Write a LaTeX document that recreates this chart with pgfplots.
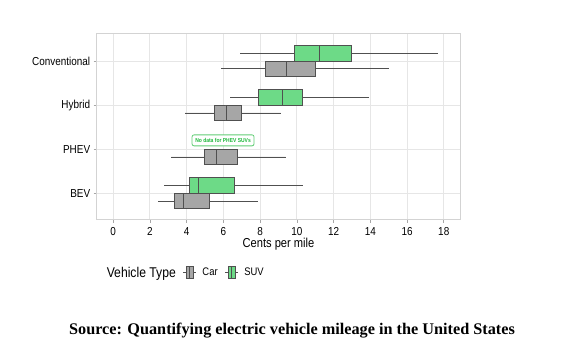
\documentclass[border=0pt]{standalone}
\usepackage{fontspec}
\setmainfont{Liberation Sans}[FakeStretch=0.86]
\newfontfamily\capfont{Liberation Serif}
\usepackage{pgfplots}
\pgfplotsset{compat=1.18}
\usepgfplotslibrary{statistics}
\definecolor{cargray}{HTML}{A6A6A6}
\definecolor{suvgreen}{HTML}{6DDA87}
\definecolor{edge}{HTML}{505050}
\definecolor{gridc}{HTML}{E6E6E6}
\definecolor{framec}{HTML}{D3D3D3}
\definecolor{notegreen}{HTML}{1DB83A}
\begin{document}
\begin{tikzpicture}
\path[use as bounding box] (0,0) rectangle (567bp,364bp);
\begin{axis}[
  at={(96.7bp,144.3bp)}, anchor=south west,
  scale only axis, width=363.6bp, height=186bp,
  xmin=-0.9, xmax=18.9, ymin=0.4, ymax=4.62,
  xtick={0,2,...,18},
  ytick={1,2,3,4},
  yticklabels={BEV,PHEV,Hybrid,Conventional},
  xtick pos=bottom, ytick pos=left,
  /pgf/number format/assume math mode=true,
  tick label style={font=\fontsize{11.6}{13}\selectfont, color=black},
  xticklabel style={yshift=-1bp},
  xlabel={Cents per mile},
  xlabel style={font=\fontsize{13}{15}\selectfont, yshift=4bp},
  grid=major,
  major grid style={gridc, line width=1bp},
  axis line style={framec, line width=1.4bp},
  tick align=outside, major tick length=3bp,
  tick style={color=black!35, line width=0.7bp},
  legend columns=-1,
  legend style={at={(0.008,-0.285)}, anchor=west, draw=none, fill=none,
    font=\fontsize{11}{13}\selectfont, inner sep=1bp,
    /tikz/every odd column/.append style={column sep=4bp},
    /tikz/every even column/.append style={column sep=5bp}},
  boxplot/draw direction=x,
]
\addlegendimage{empty legend}
\addlegendentry{\fontsize{14.2}{16}\selectfont Vehicle Type}
\addlegendimage{legend image code/.code={
  \draw[edge, line width=0.7bp] (0bp,0) -- (3bp,0);
  \draw[edge, line width=0.7bp] (10bp,0) -- (13bp,0);
  \draw[fill=cargray, draw=edge, line width=0.7bp] (3bp,-6bp) rectangle (10bp,6bp);
  \draw[edge, line width=0.7bp] (6.5bp,-6bp) -- (6.5bp,6bp);}}
\addlegendentry{Car}
\addlegendimage{legend image code/.code={
  \draw[edge, line width=0.7bp] (0bp,0) -- (3bp,0);
  \draw[edge, line width=0.7bp] (10bp,0) -- (13bp,0);
  \draw[fill=suvgreen, draw=edge, line width=0.7bp] (3bp,-6bp) rectangle (10bp,6bp);
  \draw[edge, line width=0.7bp] (6.5bp,-6bp) -- (6.5bp,6bp);}}
\addlegendentry{SUV}
% Conventional
\addplot[fill=suvgreen, draw=edge, line width=0.8bp, boxplot prepared={lower whisker=6.92, lower quartile=9.88, median=11.20, upper quartile=12.98, upper whisker=17.69, draw position=4.177, box extend=0.355, whisker extend=0}] coordinates {};
\addplot[fill=cargray, draw=edge, line width=0.8bp, boxplot prepared={lower whisker=5.89, lower quartile=8.30, median=9.44, upper quartile=11.00, upper whisker=15.03, draw position=3.823, box extend=0.355, whisker extend=0}] coordinates {};
% Hybrid
\addplot[fill=suvgreen, draw=edge, line width=0.8bp, boxplot prepared={lower whisker=6.36, lower quartile=7.88, median=9.23, upper quartile=10.31, upper whisker=13.94, draw position=3.177, box extend=0.355, whisker extend=0}] coordinates {};
\addplot[fill=cargray, draw=edge, line width=0.8bp, boxplot prepared={lower whisker=3.92, lower quartile=5.51, median=6.14, upper quartile=6.96, upper whisker=9.12, draw position=2.823, box extend=0.355, whisker extend=0}] coordinates {};
% PHEV
\addplot[fill=cargray, draw=edge, line width=0.8bp, boxplot prepared={lower whisker=3.17, lower quartile=4.95, median=5.62, upper quartile=6.74, upper whisker=9.39, draw position=1.823, box extend=0.355, whisker extend=0}] coordinates {};
% BEV
\addplot[fill=suvgreen, draw=edge, line width=0.8bp, boxplot prepared={lower whisker=2.77, lower quartile=4.15, median=4.66, upper quartile=6.62, upper whisker=10.33, draw position=1.177, box extend=0.355, whisker extend=0}] coordinates {};
\addplot[fill=cargray, draw=edge, line width=0.8bp, boxplot prepared={lower whisker=2.43, lower quartile=3.33, median=3.81, upper quartile=5.22, upper whisker=7.87, draw position=0.823, box extend=0.355, whisker extend=0}] coordinates {};
\node[draw=notegreen!70, fill=white, rounded corners=2bp, text=notegreen, line width=0.8bp,
  font=\bfseries\fontsize{5.8}{7}\selectfont, inner sep=2.5bp, minimum width=62bp, minimum height=11bp]
  at (axis cs:5.98,2.2) {No data for PHEV SUVs};
\end{axis}
\node[font=\capfont\bfseries\fontsize{16.3}{18}\selectfont] at (292bp,33bp)
  {Source: Quantifying electric vehicle mileage in the United States};
\end{tikzpicture}
\end{document}
